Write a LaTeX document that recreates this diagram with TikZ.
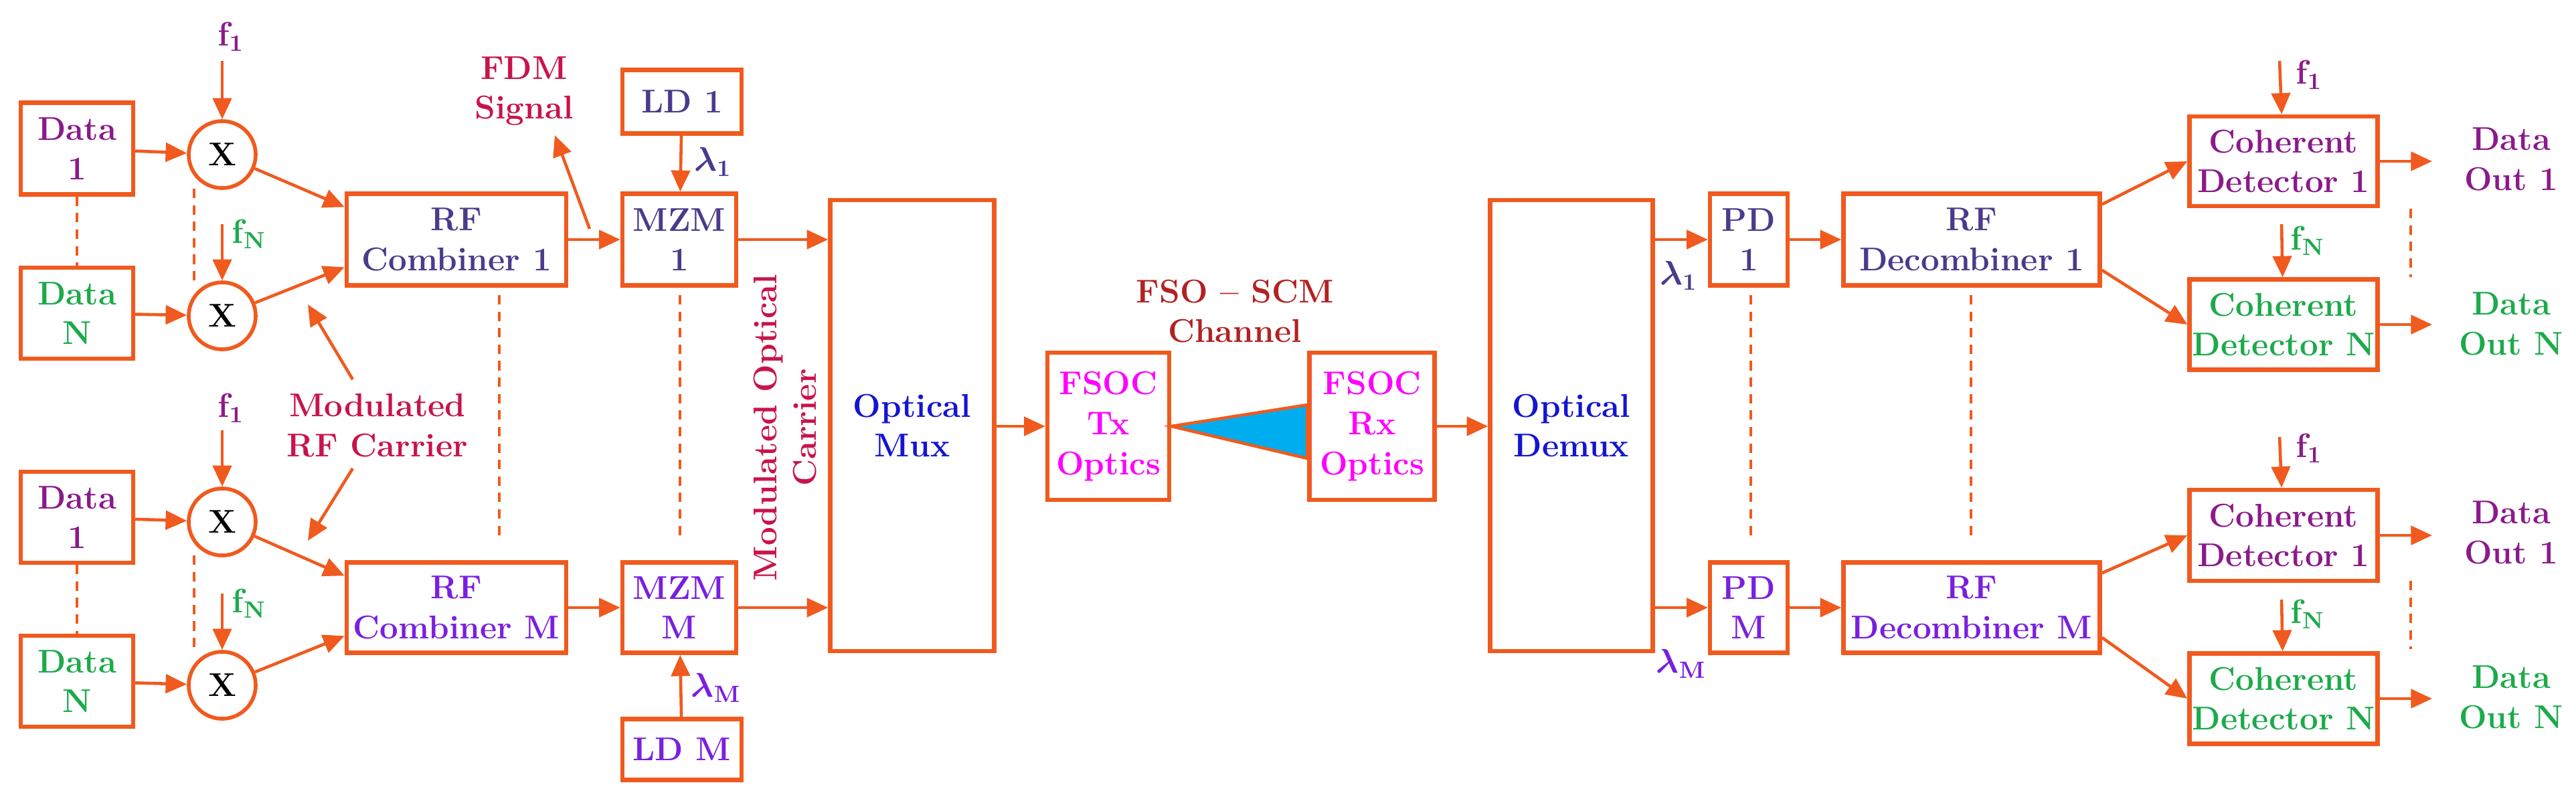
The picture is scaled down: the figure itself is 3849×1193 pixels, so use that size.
\documentclass[tikz,border=0pt]{standalone}
\usepackage{amsmath,bm}
\usetikzlibrary{arrows.meta,calc}
\definecolor{orng}{HTML}{F05A1E}
\definecolor{dpurp}{HTML}{8B1A8B}
\definecolor{dgreen}{HTML}{1DAA4B}
\definecolor{slate}{HTML}{4B3A8C}
\definecolor{violet2}{HTML}{7A1FE0}
\definecolor{oblue}{HTML}{1414D2}
\definecolor{magen}{HTML}{FF00FF}
\definecolor{crims}{HTML}{C8144B}
\definecolor{dred}{HTML}{B22222}
\begin{document}
\begin{tikzpicture}[x=0.01cm,y=-0.01cm,
  every node/.style={font=\fontsize{14}{17}\selectfont\bfseries, align=center, inner sep=0pt},
  box/.style={draw=orng, line width=1.8pt, fill=white},
  mix/.style={draw=orng, line width=1.6pt, circle, minimum size=1cm, fill=white},
  arr/.style={draw=orng, line width=1.3pt, -{Triangle[length=9pt,width=8pt]}},
  dots/.style={draw=orng, line width=1.2pt, dash pattern=on 4pt off 3pt}]
\useasboundingbox (0,0) rectangle (3849,1193);
% data boxes
\node[box,text=dpurp,minimum width=1.68cm,minimum height=1.37cm] (d1) at (115,222) {Data\\1};
\node[box,text=dgreen,minimum width=1.68cm,minimum height=1.36cm] (dN) at (115,468) {Data\\N};
\node[box,text=dpurp,minimum width=1.68cm,minimum height=1.36cm] (d1b) at (115,773) {Data\\1};
\node[box,text=dgreen,minimum width=1.68cm,minimum height=1.36cm] (dNb) at (115,1018) {Data\\N};
% mixers
\node[mix] (m1) at (332,231) {X};
\node[mix] (mN) at (332,472) {X};
\node[mix] (m1b) at (332,780) {X};
\node[mix] (mNb) at (332,1024) {X};
% combiners
\node[box,text=slate,minimum width=3.28cm,minimum height=1.37cm] (c1) at (682,358) {RF\\Combiner 1};
\node[box,text=violet2,minimum width=3.28cm,minimum height=1.35cm] (cM) at (682,908) {RF\\Combiner M};
% MZM
\node[box,text=slate,minimum width=1.70cm,minimum height=1.37cm] (z1) at (1015,358) {MZM\\1};
\node[box,text=violet2,minimum width=1.70cm,minimum height=1.35cm] (zM) at (1015,908) {MZM\\M};
\node[box,text=slate,minimum width=1.78cm,minimum height=0.95cm] (ld1) at (1019,152) {LD 1};
\node[box,text=violet2,minimum width=1.78cm,minimum height=0.91cm] (ldM) at (1019,1120) {LD M};
% mux / optics
\node[box,text=oblue,minimum width=2.45cm,minimum height=6.74cm] (mux) at (1363,636) {Optical\\Mux};
\node[box,text=magen,minimum width=1.82cm,minimum height=2.20cm] (tx) at (1656,637) {FSOC\\Tx\\Optics};
\node[box,text=magen,minimum width=1.87cm,minimum height=2.20cm] (rx) at (2050,637) {FSOC\\Rx\\Optics};
\node[box,text=oblue,minimum width=2.43cm,minimum height=6.74cm] (demux) at (2348,636) {Optical\\Demux};
% receiver
\node[box,text=slate,minimum width=1.16cm,minimum height=1.37cm] (pd1) at (2613,358) {PD\\1};
\node[box,text=violet2,minimum width=1.16cm,minimum height=1.35cm] (pdM) at (2613,908) {PD\\M};
\node[box,text=slate,minimum width=3.83cm,minimum height=1.37cm] (dc1) at (2946,358) {RF\\Decombiner 1};
\node[box,text=violet2,minimum width=3.83cm,minimum height=1.35cm] (dcM) at (2946,908) {RF\\Decombiner M};
\node[box,text=dpurp,minimum width=2.81cm,minimum height=1.34cm] (ch1) at (3412,241) {Coherent\\Detector 1};
\node[box,text=dgreen,minimum width=2.81cm,minimum height=1.35cm] (chN) at (3412,485) {Coherent\\Detector N};
\node[box,text=dpurp,minimum width=2.81cm,minimum height=1.36cm] (ch1b) at (3412,800) {Coherent\\Detector 1};
\node[box,text=dgreen,minimum width=2.81cm,minimum height=1.35cm] (chNb) at (3412,1044) {Coherent\\Detector N};
\node[text=dpurp] (o1) at (3752,238) {Data\\Out 1};
\node[text=dgreen] (oN) at (3752,484) {Data\\Out N};
\node[text=dpurp] (o1b) at (3752,796) {Data\\Out 1};
\node[text=dgreen] (oNb) at (3752,1042) {Data\\Out N};
% labels
\node[text=dpurp] (lf1) at (345,55) {$\mathbf{f}_{\mathbf{1}}$};
\node[text=dgreen] (lfN) at (372,350) {$\mathbf{f}_{\mathbf{N}}$};
\node[text=dpurp] (lf1b) at (345,610) {$\mathbf{f}_{\mathbf{1}}$};
\node[text=dgreen] (lfNb) at (372,902) {$\mathbf{f}_{\mathbf{N}}$};
\node[text=dpurp] (rf1) at (3450,112) {$\mathbf{f}_{\mathbf{1}}$};
\node[text=dgreen] (rfN) at (3448,360) {$\mathbf{f}_{\mathbf{N}}$};
\node[text=dpurp] (rf1b) at (3450,670) {$\mathbf{f}_{\mathbf{1}}$};
\node[text=dgreen] (rfNb) at (3448,918) {$\mathbf{f}_{\mathbf{N}}$};
\node[text=slate] (l1) at (1065,242) {$\bm{\lambda}_{\mathbf{1}}$};
\node[text=violet2] (lM) at (1070,1028) {$\bm{\lambda}_{\mathbf{M}}$};
\node[text=slate] (r1) at (2508,412) {$\bm{\lambda}_{\mathbf{1}}$};
\node[text=violet2] (rM) at (2512,992) {$\bm{\lambda}_{\mathbf{M}}$};
\node[text=crims] (fdm) at (783,136) {FDM\\Signal};
\node[text=crims] (mrf) at (564,636) {Modulated\\RF Carrier};
\node[text=crims,rotate=90] (moc) at (1173,639) {Modulated Optical\\Carrier};
\node[text=dred] (fso) at (1845,465) {FSO -- SCM\\Channel};
% coordinates
\coordinate (t1) at (332,91); \coordinate (tN) at (332,335);
\coordinate (t1b) at (332,643); \coordinate (tNb) at (332,887);
\coordinate (u1) at (3406,91); \coordinate (uN) at (3409,335);
\coordinate (u1b) at (3406,653); \coordinate (uNb) at (3409,896);
\coordinate (fa) at (881,342); \coordinate (fb) at (829,202);
\coordinate (ma) at (527,567); \coordinate (mb) at (460,455);
\coordinate (mc) at (527,700); \coordinate (md) at (460,808);
\coordinate (e1) at (3634,241); \coordinate (eN) at (3634,485);
\coordinate (e1b) at (3634,800); \coordinate (eNb) at (3634,1044);
% arrows left
\draw[arr] (t1) -- (m1);
\draw[arr] (tN) -- (mN);
\draw[arr] (t1b) -- (m1b);
\draw[arr] (tNb) -- (mNb);
\foreach \a/\b in {d1/m1,dN/mN,d1b/m1b,dNb/mNb} \draw[arr] (\a) -- (\b);
\draw[arr] (m1) -- ($(c1.north west)+(0,23)$);
\draw[arr] (mN) -- ($(c1.north west)+(0,113)$);
\draw[arr] (m1b) -- ($(cM.north west)+(0,23)$);
\draw[arr] (mNb) -- ($(cM.north west)+(0,113)$);
\draw[arr] (c1) -- (z1);
\draw[arr] (cM) -- (zM);
\draw[arr] (ld1) -- (z1);
\draw[arr] (ldM) -- (zM);
\draw[arr] (z1.east) -- (mux.west |- z1.east);
\draw[arr] (zM.east) -- (mux.west |- zM.east);
\draw[arr] (fa) -- (fb);
\draw[arr] (ma) -- (mb);
\draw[arr] (mc) -- (md);
\draw[arr] (mux.east |- tx.west) -- (tx.west);
\draw[arr] (rx.east) -- (demux.west |- rx.east);
% channel
\draw[draw=orng,line width=1.3pt,fill=cyan] (tx.east) -- ($(rx.west)+(0,-32)$) -- ($(rx.west)+(0,48)$) -- cycle;
% receiver arrows
\draw[arr] (demux.east |- pd1.west) -- (pd1.west);
\draw[arr] (demux.east |- pdM.west) -- (pdM.west);
\draw[arr] (pd1) -- (dc1);
\draw[arr] (pdM) -- (dcM);
\draw[arr] ($(dc1.north east)+(0,19)$) -- (ch1.west);
\draw[arr] ($(dc1.south east)+(0,-26)$) -- (chN.west);
\draw[arr] ($(dcM.north east)+(0,19)$) -- (ch1b.west);
\draw[arr] ($(dcM.south east)+(0,-26)$) -- (chNb.west);
\draw[arr] (u1) -- (ch1);
\draw[arr] (uN) -- (chN);
\draw[arr] (u1b) -- (ch1b);
\draw[arr] (uNb) -- (chNb);
\draw[arr] (ch1) -- (e1);
\draw[arr] (chN) -- (eN);
\draw[arr] (ch1b) -- (e1b);
\draw[arr] (chNb) -- (eNb);
% dotted
\draw[dots] (d1.south) -- (dN.north);
\draw[dots] (d1b.south) -- (dNb.north);
\draw[dots] (290,282) -- (290,422);
\draw[dots] (290,830) -- (290,974);
\draw[dots] (746,441) -- (746,803);
\draw[dots] (1016,441) -- (1016,803);
\draw[dots] (2616,441) -- (2616,803);
\draw[dots] (2945,441) -- (2945,803);
\draw[dots] (3602,312) -- (3602,414);
\draw[dots] (3602,868) -- (3602,970);
\end{tikzpicture}
\end{document}
